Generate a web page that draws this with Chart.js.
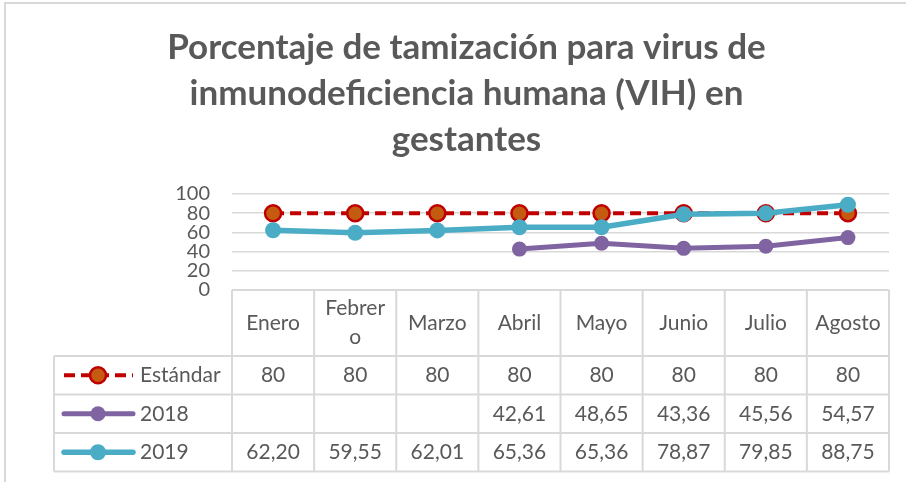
<!DOCTYPE html>
<html>
<head>
<meta charset="utf-8">
<script src="https://cdn.jsdelivr.net/npm/chart.js@4"></script>
<style>
  html, body { margin: 0; padding: 0; background: #fff; overflow: hidden; }
  #frame { position: absolute; left: 4px; top: 2px; width: 940px; height: 520px; border: 2px solid #d9d9d9; }
  #wrap { position: absolute; left: 0; top: 0; width: 906px; height: 482px; }
</style>
</head>
<body>
<div id="frame"></div>
<div id="wrap"><canvas id="vihChart" width="906" height="482"></canvas></div>
<script>
const months = ['Enero', ['Febrer', 'o'], 'Marzo', 'Abril', 'Mayo', 'Junio', 'Julio', 'Agosto'];
const estandar = [80, 80, 80, 80, 80, 80, 80, 80];
const serie2018 = [null, null, null, 42.61, 48.65, 43.36, 45.56, 54.57];
const serie2019 = [62.20, 59.55, 62.01, 65.36, 65.36, 78.87, 79.85, 88.75];
const yTicks = [0, 20, 40, 60, 80, 100];

const textColor = '#595959';
const gridColor = '#d9d9d9';
const font = 'Lato, "Open Sans", sans-serif';

const fmt = v => {
    if (v === null) return '';
    return Number.isInteger(v) ? String(v) : v.toFixed(2).replace('.', ',');
};

// draws the data table under the plot, aligned to the x scale
const dataTable = {
    id: 'dataTable',
    afterDraw(chart) {
        const c = chart.ctx;
        const xs = chart.scales.x;
        const n = months.length;
        const colW = (xs.right - xs.left) / n;
        const top = chart.chartArea.bottom;
        const headH = 66;
        const rowH = 38.5;
        const tableLeft = 54;
        const bottom = top + headH + rowH * 3;

        c.save();
        c.strokeStyle = gridColor;
        c.lineWidth = 2;
        c.beginPath();
        c.moveTo(xs.left, top); c.lineTo(xs.right, top);
        for (let r = 0; r <= 3; r++) {
            const y = top + headH + rowH * r;
            c.moveTo(tableLeft, y); c.lineTo(xs.right, y);
        }
        for (let i = 0; i <= n; i++) {
            const x = xs.left + i * colW;
            c.moveTo(x, top); c.lineTo(x, bottom);
        }
        c.moveTo(tableLeft, top + headH); c.lineTo(tableLeft, bottom);
        c.stroke();

        c.fillStyle = textColor;
        c.font = '21px ' + font;
        c.textAlign = 'center';
        c.textBaseline = 'middle';
        months.forEach((m, i) => {
            const x = xs.getPixelForValue(i);
            const lines = Array.isArray(m) ? m : [m];
            const y0 = top + headH / 2 - (lines.length - 1) * 14.5;
            lines.forEach((t, k) => c.fillText(t, x, y0 + k * 29));
        });

        chart.data.datasets.forEach((ds, r) => {
            const y = top + headH + rowH * r + rowH / 2;
            // legend sample
            c.save();
            c.strokeStyle = ds.borderColor;
            c.lineWidth = ds.borderWidth;
            c.lineCap = ds.borderDash ? 'butt' : 'round';
            c.setLineDash(ds.borderDash || []);
            c.beginPath();
            c.moveTo(64, y); c.lineTo(133, y);
            c.stroke();
            c.setLineDash([]);
            c.beginPath();
            c.arc(98, y, ds.pointRadius, 0, Math.PI * 2);
            c.fillStyle = ds.pointBackgroundColor;
            c.fill();
            if (ds.pointBorderWidth) {
                c.lineWidth = ds.pointBorderWidth;
                c.strokeStyle = ds.pointBorderColor;
                c.stroke();
            }
            c.restore();
            c.textAlign = 'left';
            c.fillText(ds.label, 140, y);
            c.textAlign = 'center';
            ds.data.forEach((v, i) => c.fillText(fmt(v), xs.getPixelForValue(i), y));
        });
        c.restore();
    }
};

new Chart(document.getElementById('vihChart'), {
    type: 'line',
    data: {
        labels: months,
        datasets: [{
            label: 'Estándar',
            data: estandar,
            borderColor: '#c00000',
            borderWidth: 4,
            borderDash: [11, 6],
            pointRadius: 8,
            pointBackgroundColor: '#c55a11',
            pointBorderColor: '#c00000',
            pointBorderWidth: 2.5,
            order: 3,
        }, {
            label: '2018',
            data: serie2018,
            borderColor: '#8064a2',
            borderWidth: 5,
            pointRadius: 7.5,
            pointBackgroundColor: '#8064a2',
            pointBorderColor: '#8064a2',
            pointBorderWidth: 0,
            order: 2,
        }, {
            label: '2019',
            data: serie2019,
            borderColor: '#4bacc6',
            borderWidth: 5.5,
            pointRadius: 8,
            pointBackgroundColor: '#4bacc6',
            pointBorderColor: '#4bacc6',
            pointBorderWidth: 0,
            order: 1,
        }]
    },
    options: {
        responsive: false,
        animation: false,
        layout: { padding: { left: 44, right: 17, top: 0, bottom: 192 } },
        plugins: {
            legend: { display: false },
            tooltip: { enabled: false },
            title: {
                display: true,
                text: ['Porcentaje de tamización para virus de', 'inmunodeficiencia humana (VIH) en', 'gestantes'],
                color: textColor,
                font: { family: font, size: 35, weight: 'bold', lineHeight: 1.314 },
                padding: { top: 25, bottom: 31 },
            }
        },
        scales: {
            x: { type: 'category', offset: true, display: false },
            y: {
                min: 0,
                max: 100,
                afterFit: s => { s.width = 188; },
                afterBuildTicks: s => { s.ticks = yTicks.map(v => ({ value: v })); },
                border: { display: false },
                grid: { color: gridColor, lineWidth: 1.5, drawTicks: false },
                ticks: { color: textColor, padding: 22, autoSkip: false, font: { family: font, size: 20 } },
            }
        }
    },
    plugins: [dataTable]
});
</script>
</body>
</html>
